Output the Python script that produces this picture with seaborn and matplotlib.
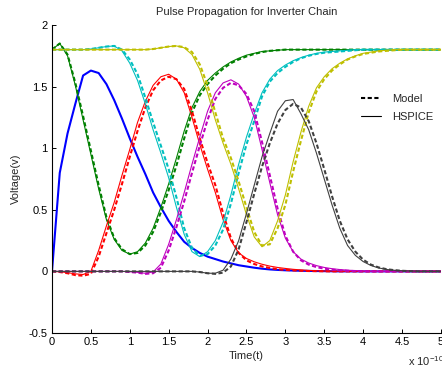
import numpy as np
import matplotlib
matplotlib.use('Agg')
import matplotlib.pyplot as plt
from matplotlib.lines import Line2D
import seaborn as sns

# time samples (units of 1e-10 s)
t = np.round(np.arange(51) * 0.1, 1)

# input pulse (single trace)
blue = [0, 0.80, 1.12, 1.36, 1.59, 1.63, 1.61, 1.52, 1.39, 1.24,
        1.08, 0.93, 0.79, 0.64, 0.52, 0.41, 0.32, 0.24, 0.19, 0.15,
        0.12, 0.10, 0.08, 0.065, 0.05, 0.04, 0.03, 0.022, 0.016, 0.012,
        0.009, 0.007, 0.005, 0.004, 0.003, 0.002, 0.001] + [0] * 14

green_model = [1.80, 1.85, 1.76, 1.53, 1.26, 0.98, 0.70, 0.44, 0.27, 0.18,
               0.14, 0.15, 0.21, 0.32, 0.48, 0.66, 0.86, 1.08, 1.29, 1.43,
               1.52, 1.59, 1.645, 1.69, 1.72, 1.745, 1.765, 1.78, 1.79, 1.795] + [1.80] * 21
green_hspice = [1.80, 1.85, 1.75, 1.51, 1.23, 0.95, 0.67, 0.42, 0.26, 0.17,
                0.14, 0.16, 0.23, 0.35, 0.52, 0.71, 0.92, 1.14, 1.33, 1.46,
                1.55, 1.61, 1.66, 1.70, 1.73, 1.755, 1.77, 1.785, 1.79, 1.795] + [1.80] * 21

red_model = [0, -0.005, -0.015, -0.03, -0.035, -0.02, 0.12, 0.31, 0.50, 0.71,
             0.93, 1.14, 1.33, 1.47, 1.55, 1.58, 1.56, 1.48, 1.30, 1.08,
             0.88, 0.70, 0.47, 0.27, 0.15, 0.09, 0.06, 0.04, 0.028, 0.018,
             0.012, 0.008, 0.005, 0.003, 0.002, 0.001] + [0] * 15
red_hspice = [0, -0.003, -0.01, -0.02, -0.025, 0.0, 0.17, 0.37, 0.56, 0.78,
              0.99, 1.21, 1.38, 1.51, 1.58, 1.60, 1.56, 1.45, 1.25, 1.03,
              0.83, 0.64, 0.42, 0.25, 0.15, 0.105, 0.078, 0.058, 0.043, 0.032,
              0.024, 0.017, 0.012, 0.008, 0.005, 0.003, 0.002, 0.001] + [0] * 13

cyan_model = [1.80] * 5 + [1.805, 1.815, 1.825, 1.83, 1.80,
                           1.72, 1.60, 1.41, 1.21, 1.02, 0.83, 0.60, 0.35, 0.19, 0.125,
                           0.14, 0.21, 0.34, 0.55, 0.80, 1.03, 1.22, 1.42, 1.54, 1.61,
                           1.66, 1.70, 1.73, 1.75, 1.765, 1.775, 1.78, 1.785, 1.79, 1.795] + [1.80] * 11
cyan_hspice = [1.80] * 5 + [1.805, 1.815, 1.825, 1.83, 1.79,
                            1.69, 1.55, 1.36, 1.15, 0.96, 0.76, 0.52, 0.30, 0.16, 0.12,
                            0.16, 0.25, 0.40, 0.62, 0.87, 1.09, 1.28, 1.45, 1.56, 1.63,
                            1.675, 1.71, 1.735, 1.755, 1.77, 1.78, 1.785, 1.79, 1.795] + [1.80] * 12

magenta_model = [0] * 10 + [-0.005, -0.01, -0.02, -0.015, 0.03, 0.17, 0.36, 0.57, 0.80, 1.02,
                            1.23, 1.40, 1.49, 1.53, 1.51, 1.44, 1.30, 1.05, 0.78, 0.51,
                            0.29, 0.16, 0.09, 0.055, 0.035, 0.022, 0.014, 0.009, 0.005, 0.003,
                            0.001] + [0] * 10
magenta_hspice = [0] * 10 + [-0.003, -0.008, -0.015, -0.005, 0.06, 0.22, 0.42, 0.64, 0.87, 1.09,
                             1.30, 1.45, 1.53, 1.555, 1.52, 1.42, 1.25, 0.99, 0.72, 0.46,
                             0.27, 0.16, 0.10, 0.068, 0.047, 0.032, 0.022, 0.015, 0.010, 0.006,
                             0.003, 0.001] + [0] * 9

yellow_model = [1.80] * 13 + [1.805, 1.815, 1.825, 1.83, 1.82, 1.78, 1.68,
                              1.51, 1.29, 1.08, 0.92, 0.73, 0.52, 0.32, 0.21, 0.22, 0.35,
                              0.54, 0.81, 1.06, 1.29, 1.46, 1.56, 1.63, 1.68, 1.72, 1.745,
                              1.765, 1.775, 1.785, 1.79, 1.795] + [1.80] * 6
yellow_hspice = [1.80] * 13 + [1.805, 1.815, 1.825, 1.83, 1.815, 1.76, 1.64,
                               1.45, 1.23, 1.04, 0.87, 0.67, 0.46, 0.28, 0.20, 0.25, 0.41,
                               0.62, 0.89, 1.13, 1.34, 1.49, 1.58, 1.645, 1.69, 1.725, 1.75,
                               1.77, 1.78, 1.79, 1.795] + [1.80] * 7

gray_model = [0] * 19 + [-0.005, -0.015, -0.02, -0.01, 0.04, 0.18, 0.40, 0.63, 0.85, 1.04,
                         1.20, 1.31, 1.36, 1.33, 1.22, 1.04, 0.83, 0.61, 0.41, 0.26,
                         0.16, 0.095, 0.055, 0.032, 0.018, 0.010, 0.005, 0.002] + [0] * 4
gray_hspice = [0] * 19 + [-0.005, -0.015, -0.015, 0.01, 0.10, 0.25, 0.47, 0.70, 0.93, 1.12,
                          1.30, 1.385, 1.395, 1.28, 1.15, 0.96, 0.75, 0.54, 0.35, 0.21,
                          0.13, 0.08, 0.048, 0.028, 0.016, 0.009, 0.005, 0.003, 0.001] + [0] * 3

stages = [
    ((0, 0.5, 0), green_model, green_hspice),
    ((1, 0, 0), red_model, red_hspice),
    ((0, 0.75, 0.75), cyan_model, cyan_hspice),
    ((0.75, 0, 0.75), magenta_model, magenta_hspice),
    ((0.75, 0.75, 0), yellow_model, yellow_hspice),
    ((0.25, 0.25, 0.25), gray_model, gray_hspice),
]

sns.set_style('ticks')
plt.rcParams['font.family'] = ['Liberation Sans', 'DejaVu Sans']

dash = (0, (2.0, 1.2))

fig = plt.figure(figsize=(4.42, 3.68), dpi=100)
ax = fig.add_axes([0.1176, 0.0951, 0.880, 0.837])

sns.lineplot(x=t, y=blue, color=(0, 0, 1), lw=1.5, ax=ax)
for col, mod, hsp in stages:
    sns.lineplot(x=t, y=mod, color=col, lw=1.5, linestyle=dash, ax=ax)
    sns.lineplot(x=t, y=hsp, color=col, lw=0.8, ax=ax)

ax.set_xlim(0, 5)
ax.set_ylim(-0.5, 2)
xt = np.arange(11) * 0.5
ax.set_xticks(xt)
ax.set_xticklabels(['0', '0.5', '1', '1.5', '2', '2.5', '3', '3.5', '4', '4.5', '5'])
ax.set_yticks([-0.5, 0, 0.5, 1, 1.5, 2])
ax.set_yticklabels(['-0.5', '0', '0.5', '1', '1.5', '2'])
ax.tick_params(direction='in', length=3, width=0.7, labelsize=8, pad=3, colors='black')
for s in ['top', 'right']:
    ax.spines[s].set_visible(False)
for s in ['left', 'bottom']:
    ax.spines[s].set_linewidth(0.8)
    ax.spines[s].set_color('black')

ax.set_title('Pulse Propagation for Inverter Chain', fontsize=8, pad=7)
ax.set_xlabel('Time(t)', fontsize=8, labelpad=3)
ax.set_ylabel('Voltage(v)', fontsize=8, labelpad=6)

handles = [Line2D([], [], color='k', lw=1.5, linestyle=dash),
           Line2D([], [], color='k', lw=0.8)]
ax.legend(handles, ['Model', 'HSPICE'], frameon=False, fontsize=8,
          loc='upper left', bbox_to_anchor=(0.782, 0.79), borderaxespad=0,
          handlelength=1.8, handletextpad=1.0, labelspacing=0.7)

fig.text(0.922, 0.006, r'x 10$^{\mathregular{-10}}$', fontsize=8, ha='left', va='baseline')

fig.savefig('out.png', dpi=100)
plt.close(fig)
